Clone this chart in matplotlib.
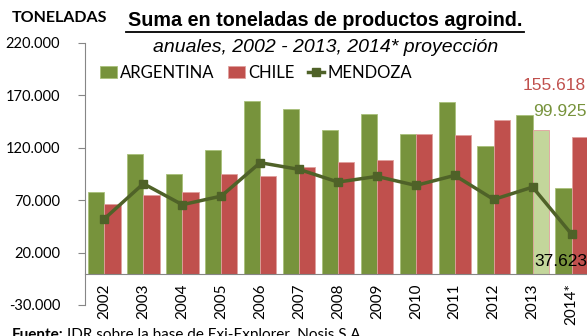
import matplotlib.pyplot as plt
import numpy as np
from matplotlib.ticker import FuncFormatter

years = ['2002', '2003', '2004', '2005', '2006', '2007', '2008', '2009',
         '2010', '2011', '2012', '2013', '2014*']
argentina = [77700, 114400, 95300, 117600, 164400, 156800, 137400, 152700,
             133600, 163800, 121400, 151400, 81900]
chile = [66600, 74600, 77700, 94600, 93400, 101600, 106400, 108000,
         133200, 132600, 146300, 137400, 130300]
mendoza = [52300, 85800, 65700, 73900, 105800, 99400, 87300, 92700,
           84100, 93700, 70700, 82500, 37623]
yticks = [-30000, 20000, 70000, 120000, 170000, 220000]

green = '#77933C'
red = '#C0504D'
light_green = '#C3D69B'
dark_green = '#4F6228'
grey = '#868686'

W, H = 587, 336
fig = plt.figure(figsize=(W / 100, H / 100), dpi=100)
# plot area runs a little past the right edge, the last bar gets cut
ax = fig.add_axes([85 / W, 1 - 305 / H, (591 - 85) / W, (305 - 43) / H])

x = np.arange(len(years))
bw = 0.417
chile_colors = [red] * len(years)
chile_colors[11] = light_green  # 2013 second bar drawn light

b1 = ax.bar(x - bw / 2, argentina, bw, color=green, edgecolor='#a9c07a',
            linewidth=0.6, label='ARGENTINA', zorder=2)
b2 = ax.bar(x + bw / 2, chile, bw, color=chile_colors, edgecolor='#e0a09e',
            linewidth=0.6, label='CHILE', zorder=2)
l1, = ax.plot(x, mendoza, color=dark_green, lw=2.5, marker='s', ms=5.5,
              label='MENDOZA', zorder=3)

ax.set_xlim(-0.5, len(years) - 0.5)
ax.set_ylim(-30000, 220000)
ax.set_yticks(yticks)
ax.yaxis.set_major_formatter(FuncFormatter(lambda v, p: f'{v:,.0f}'.replace(',', '.')))
ax.tick_params(axis='y', length=5, color=grey, labelsize=10.5, pad=13)
for t in ax.get_yticklabels():
    t.set_fontfamily('Lato')

ax.spines['top'].set_visible(False)
ax.spines['right'].set_visible(False)
ax.spines['left'].set_color(grey)
ax.spines['bottom'].set_color(grey)
ax.spines['bottom'].set_position(('data', 0))
ax.set_xticks(x)
ax.set_xticklabels(years, rotation=90, fontfamily='Lato', fontsize=11)
ax.tick_params(axis='x', length=0, pad=7)

ax.legend([b1, b2, l1], ['ARGENTINA', 'CHILE', 'MENDOZA'],
          loc='upper left', bbox_to_anchor=(0.0, 0.975), ncol=3,
          frameon=False, handlelength=1.0, handletextpad=0.2,
          columnspacing=0.8, prop={'family': 'Lato', 'size': 12})

# value labels
ax.annotate('37.623', (12, 37623), xytext=(-11, -27), textcoords='offset pixels',
            ha='center', va='center', fontsize=12.5, color='black',
            fontfamily='Liberation Sans', zorder=4)
fig.text(586 / W, 1 - 86 / H, '155.618', ha='right', va='center',
         fontsize=12.5, color=red, fontfamily='Liberation Sans')
fig.text(587 / W, 1 - 112 / H, '99.925', ha='right', va='center',
         fontsize=12.5, color=green, fontfamily='Liberation Sans')

fig.text(12 / W, 1 - 18 / H, 'TONELADAS', ha='left', va='center',
         fontsize=11.5, fontweight='bold', fontfamily='Lato')
fig.text(325 / W, 1 - 21 / H, 'Suma en toneladas de productos agroind.',
         ha='center', va='center', fontsize=14.2, fontweight='bold',
         fontfamily='Liberation Sans')
fig.add_artist(plt.Line2D([126 / W, 524 / W], [1 - 31.5 / H, 1 - 31.5 / H],
                          color='black', lw=1.3))
fig.text(326 / W, 1 - 47 / H, 'anuales, 2002 - 2013, 2014* proyección',
         ha='center', va='center', fontsize=14, style='italic',
         fontfamily='Liberation Sans')

# source line: bold lead-in followed by plain text
src = fig.text(12 / W, 1 - 328 / H, 'Fuente:', ha='left', va='top',
               fontsize=11, fontweight='bold', fontfamily='Lato')
fig.canvas.draw()
bb = src.get_window_extent()
fig.text((bb.x1 + 3) / W, 1 - 328 / H, 'IDR sobre la base de Exi-Explorer, Nosis S.A.',
         ha='left', va='top', fontsize=11, fontfamily='Lato')

fig.savefig('out.png', dpi=100)
